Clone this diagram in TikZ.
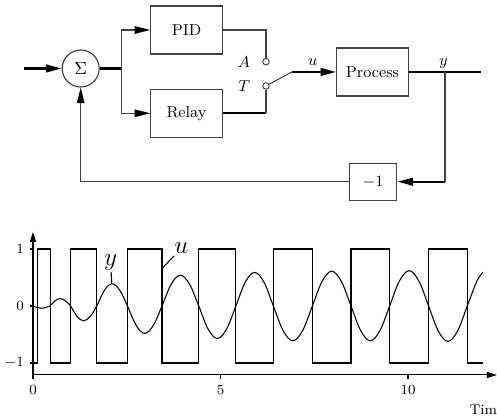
\documentclass[tikz,border=0pt]{standalone}
\usepackage{amsmath}
\usetikzlibrary{arrows.meta, positioning, calc}

\begin{document}
\begin{tikzpicture}[
    block/.style = {rectangle, draw=black!75, line width=0.6pt, minimum width=1.43cm,
                    minimum height=0.96cm, text centered, font=\small},
    sumnode/.style = {circle, draw=black!80, line width=0.6pt, minimum size=0.74cm, inner sep=0pt},
    contact/.style = {circle, draw=black!80, line width=0.5pt, minimum size=0.13cm,
                      inner sep=0pt, fill=white},
    thinline/.style = {draw=black!75, line width=0.6pt},
    thickline/.style = {draw=black, line width=1.3pt},
    arrow/.style = {-{Triangle[length=0.31cm, width=0.15cm, color=black]}},
    axisarrow/.style = {-{Triangle[length=0.2cm, width=0.12cm]}},
    label/.style = {font=\small},
    ticklabel/.style = {font=\footnotesize},
    curve/.style = {black, line width=0.6pt}
]
    \useasboundingbox (0,0) rectangle (9.94,8.38);

    % BLOCK DIAGRAM
    \coordinate (input) at (0.48,7.01);
    \node[sumnode] (sum) at (1.614,7.01) {$\Sigma$};
    \coordinate (branch) at (2.434,7.01);

    \node[block] (pid) at (3.73,7.78) {PID};
    \node[block] (relay) at (3.73,6.114) {Relay};

    % Switch
    \node[contact] (cA) at (5.32,7.146) {};
    \node[contact] (cT) at (5.32,6.66) {};
    \node[label, left=0.12cm of cA] (labA) {$A$};
    \node[label, left=0.12cm of cT] (labT) {$T$};
    \coordinate (blade) at (5.834,6.94);
    \coordinate (relayout) at (relay.east -| cT);

    \node[block] (process) at (7.45,6.94) {Process};
    \node[label] (labu) at (6.254,7.146) {$u$};
    \coordinate (tap) at (8.9,6.94);
    \coordinate (output) at (9.614,6.94);
    \node[label] (laby) at (8.866,7.114) {$y$};

    \node[block, minimum width=0.954cm, minimum height=0.734cm] (neg) at (7.46,4.746) {$-1$};
    \coordinate (fbcorner) at (tap |- neg);

    % ARROWS - Main flow
    \draw[thickline, arrow] (input) -- (sum);
    \draw[thickline] (sum) -- (branch);
    \draw[thinline, arrow] (branch) |- (pid);
    \draw[thinline, arrow] (branch) |- (relay);
    \draw[thinline] (pid) -| (cA);
    \draw[thickline] (relay) -- (relayout);
    \draw[thinline] (relayout) -- (cT);
    \draw[thinline] (cT) -- (blade);
    \draw[thickline, arrow] (blade) -- (process);
    \draw[thickline] (process) -- (output);

    % Feedback
    \draw[thinline] (tap) -- (fbcorner);
    \draw[thickline, arrow] (fbcorner) -- (neg);
    \draw[thinline, arrow] (neg) -| (sum);

    % TIME RESPONSE
    \begin{scope}[shift={(0.66,2.26)}, x=0.75cm, y=1.14cm]
        % Axes
        \coordinate (origin) at (0,-1.21);
        \coordinate (xend) at (12.37,-1.21);
        \coordinate (ybottom) at (0,-1.28);
        \coordinate (ytop) at (0,1.30);
        \draw[curve, axisarrow] (origin) -- (xend);
        \draw[curve, axisarrow] (ybottom) -- (ytop);
        \draw[curve] (5,-1.21) -- (5,-1.28);
        \draw[curve] (10,-1.21) -- (10,-1.28);
        \draw[curve] (0,1) -- (-0.08,1);
        \draw[curve] (0,0) -- (-0.08,0);
        \draw[curve] (0,-1) -- (-0.08,-1);

        \node[ticklabel, anchor=east] (tick1) at (-0.08,1) {1};
        \node[ticklabel, anchor=east] (tick0) at (-0.08,0) {0};
        \node[ticklabel, anchor=east] (tickm1) at (-0.08,-1) {$-1$};
        \node[ticklabel, anchor=north] (time0) at (0,-1.28) {0};
        \node[ticklabel, anchor=north] (time5) at (5,-1.28) {5};
        \node[ticklabel, anchor=north] (time10) at (10,-1.28) {10};
        \node[ticklabel] (timelabel) at (12.01,-1.825) {Tim};

        % Relay output u
        \draw[curve] (0,-1) -| (0.125,1) -| (0.47,-1) -| (1.0,1) -| (1.70,-1) -| (2.52,1)
            -| (3.44,-1) -| (4.42,1) -| (5.41,-1) -| (6.41,1) -| (7.45,-1) -| (8.48,1)
            -| (9.51,-1) -| (10.55,1) -| (11.58,-1) -- (12.0,-1);

        % Process output y
        \draw[curve] plot[smooth, tension=0.6] coordinates {
            (0,0) (0.1125,-0.028) (0.225,-0.04) (0.3375,-0.028) (0.45,0)
            (0.5875,0.092) (0.725,0.13) (0.8625,0.092) (1.0,0)
            (1.175,-0.184) (1.35,-0.26) (1.525,-0.184) (1.70,0)
            (1.905,0.276) (2.11,0.39) (2.315,0.276) (2.52,0)
            (2.75,-0.339) (2.98,-0.48) (3.21,-0.339) (3.44,0)
            (3.685,0.382) (3.93,0.54) (4.175,0.382) (4.42,0)
            (4.6675,-0.403) (4.915,-0.57) (5.1625,-0.403) (5.41,0)
            (5.66,0.417) (5.91,0.59) (6.16,0.417) (6.41,0)
            (6.67,-0.431) (6.93,-0.61) (7.19,-0.431) (7.45,0)
            (7.7075,0.431) (7.965,0.61) (8.2225,0.431) (8.48,0)
            (8.7375,-0.431) (8.995,-0.61) (9.2525,-0.431) (9.51,0)
            (9.77,0.438) (10.03,0.62) (10.29,0.438) (10.55,0)
            (10.8075,-0.438) (11.065,-0.62) (11.3225,-0.438) (11.58,0)
            (11.8375,0.438) (12.0,0.59)
        };

        % Curve labels
        \node[font=\Large, inner sep=1pt] (ylabel) at (2.07,0.77) {$y$};
        \coordinate (ypeak) at (2.1,0.39);
        \draw[curve] (ylabel) -- (ypeak);
        \node[font=\Large, inner sep=1pt] (ulabel) at (3.96,1.01) {$u$};
        \coordinate (uedge) at (3.44,0.66);
        \draw[curve] (ulabel) -- (uedge);
    \end{scope}

\end{tikzpicture}
\end{document}
